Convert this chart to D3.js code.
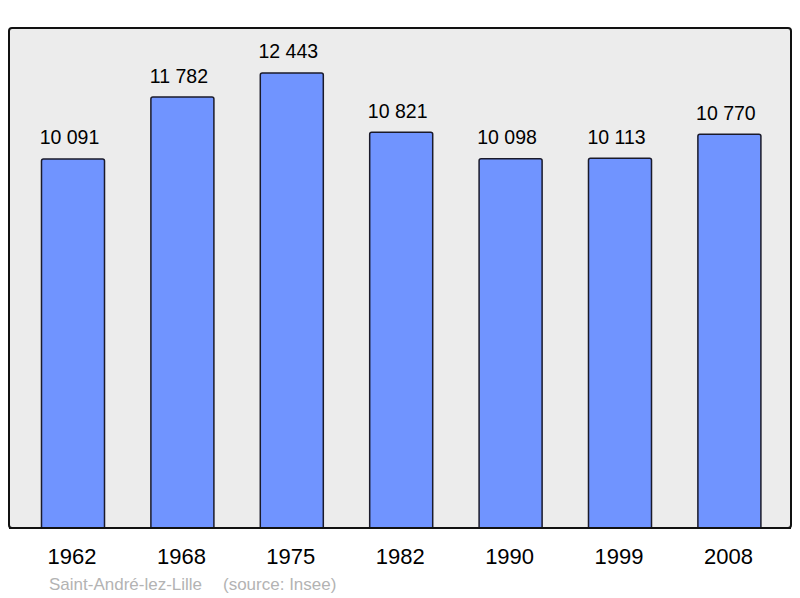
<!DOCTYPE html>
<html><head><meta charset="utf-8">
<script src="https://cdn.jsdelivr.net/npm/d3@7"></script>
<style>body{margin:0;background:#fff}svg{display:block}</style>
</head><body>
<script>
const years = ["1962","1968","1975","1982","1990","1999","2008"];
const population = [10091, 11782, 12443, 10821, 10098, 10113, 10770];
const commune = "Saint-André-lez-Lille";
const source = "(source: Insee)";

const W = 800, H = 598;
const frame = {x0: 9, y0: 28, x1: 791, y1: 528};
const svg = d3.select("body").append("svg").attr("width", W).attr("height", H);

svg.append("rect").attr("x", frame.x0).attr("y", frame.y0)
  .attr("width", frame.x1 - frame.x0).attr("height", frame.y1 - frame.y0)
  .attr("rx", 3).attr("fill", "#ececec").attr("stroke", "#111").attr("stroke-width", 2);

const x = d3.scaleBand().domain(years).range([18.3, 784.1]).paddingInner(0.424).paddingOuter(0.212);
const y = d3.scaleLinear().domain([0, 13672]).range([frame.y1, frame.y0]);

const data = years.map((yr, i) => ({yr, v: population[i]}));
const fmt = v => d3.format(",")(v).replace(/,/g, " ");

svg.append("g").selectAll("path").data(data).join("path")
  .attr("d", d => {
    const x0 = x(d.yr), x1 = x0 + x.bandwidth(), y0 = y(d.v), yb = y(0), r = 2;
    return `M${x0},${yb}V${y0 + r}Q${x0},${y0} ${x0 + r},${y0}H${x1 - r}Q${x1},${y0} ${x1},${y0 + r}V${yb}`;
  })
  .attr("fill", "#7094ff").attr("stroke", "#1a1a2a").attr("stroke-width", 1.5);

svg.append("line").attr("x1", frame.x0).attr("x2", frame.x1).attr("y1", frame.y1).attr("y2", frame.y1)
  .attr("stroke", "#111").attr("stroke-width", 2);

svg.append("g").selectAll("text").data(data).join("text")
  .attr("x", d => x(d.yr) + x.bandwidth() / 2 - 3.5)
  .attr("y", d => y(d.v) - 14.5)
  .attr("text-anchor", "middle")
  .attr("font-family", "Liberation Sans, Arial, sans-serif")
  .attr("font-size", 19.5).attr("fill", "#000")
  .text(d => fmt(d.v));

const xAxis = d3.axisBottom(x).tickSize(0).tickPadding(0);
const gx = svg.append("g").attr("transform", `translate(0,${frame.y1})`).call(xAxis);
gx.select(".domain").remove();
gx.selectAll("text").attr("dy", null).attr("y", 36).attr("dx", -1)
  .attr("font-family", "Liberation Sans, Arial, sans-serif").attr("font-size", 22).attr("fill", "#000");

svg.append("text").attr("x", 49).attr("y", 590)
  .attr("font-family", "Liberation Sans, Arial, sans-serif").attr("font-size", 17).attr("fill", "#b3b3b3")
  .text(commune);
svg.append("text").attr("x", 223).attr("y", 590)
  .attr("font-family", "Liberation Sans, Arial, sans-serif").attr("font-size", 17).attr("fill", "#b3b3b3")
  .text(source);
</script>
</body></html>
